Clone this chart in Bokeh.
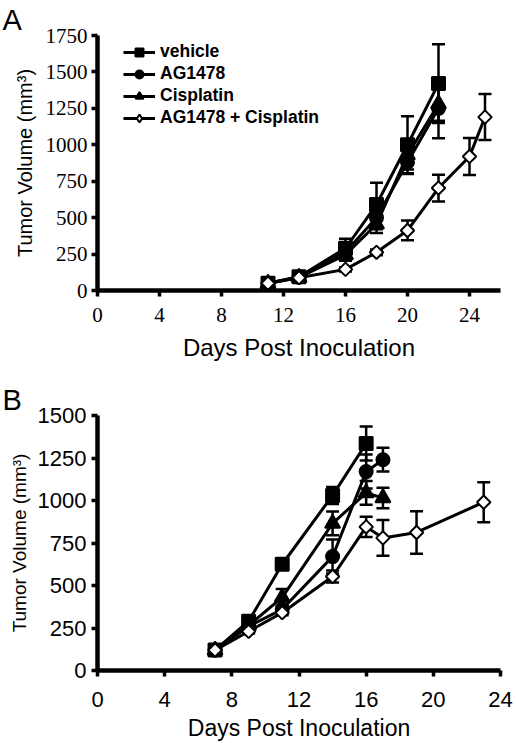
import numpy as np
from bokeh.plotting import figure
from bokeh.models import (ColumnDataSource, Whisker, TeeHead, FixedTicker,
                          Legend, LegendItem)
from bokeh.layouts import column
from bokeh.embed import file_html
from bokeh.resources import INLINE

# ---------------- data : panel A ----------------
a_series = ["vehicle", "AG1478", "Cisplatin", "AG1478 + Cisplatin"]
a_days_veh = [11, 13, 16, 18, 20, 22]
a_veh = [50, 95, 290, 590, 1000, 1420]
a_veh_sem = [15, 15, 65, 150, 195, 270]
a_days_ag = [11, 13, 16, 18, 20, 22]
a_ag = [50, 92, 265, 500, 880, 1250]
a_ag_sem = [12, 12, 40, 80, 80, 205]
a_days_cis = [11, 13, 16, 18, 20, 22]
a_cis = [48, 90, 245, 455, 930, 1280]
a_cis_sem = [12, 12, 40, 60, 100, 115]
a_days_comb = [11, 13, 16, 18, 20, 22, 24, 25]
a_comb = [50, 88, 145, 262, 412, 703, 920, 1190]
a_comb_sem = [10, 10, 15, 20, 68, 92, 127, 158]
a_xticks = [0, 4, 8, 12, 16, 20, 24]
a_yticks = [0, 250, 500, 750, 1000, 1250, 1500, 1750]

# ---------------- data : panel B ----------------
b_days_veh = [7, 9, 11, 14, 16]
b_veh = [120, 290, 625, 1030, 1335]
b_veh_sem = [10, 20, 25, 50, 100]
b_days_ag = [7, 9, 11, 14, 16, 17]
b_ag = [120, 260, 360, 670, 1170, 1240]
b_ag_sem = [10, 15, 20, 100, 100, 70]
b_days_cis = [7, 9, 11, 14, 16, 17]
b_cis = [120, 265, 430, 865, 1045, 1015]
b_cis_sem = [10, 15, 50, 70, 70, 60]
b_days_comb = [7, 9, 11, 14, 16, 17, 19, 23]
b_comb = [120, 230, 340, 553, 845, 780, 812, 990]
b_comb_sem = [10, 12, 15, 35, 60, 105, 125, 118]
b_xticks = [0, 4, 8, 12, 16, 20, 24]
b_yticks = [0, 250, 500, 750, 1000, 1250, 1500]

MARKERS = [
    dict(marker="square", size=13, fill_color="black", angle=0),
    dict(marker="circle", size=13, fill_color="black", angle=0),
    dict(marker="triangle", size=15, fill_color="black", angle=0),
    dict(marker="square", size=9.5, fill_color="white", angle=np.pi / 4),
]


def make_panel(width, height, xr, yr, borders, xticks, yticks, tick_font, letter):
    p = figure(width=width, height=height, x_range=xr, y_range=yr,
               output_backend="svg", toolbar_location=None,
               min_border_left=borders[0], min_border_right=borders[1],
               min_border_top=borders[2], min_border_bottom=borders[3])
    p.outline_line_color = None
    p.grid.visible = False
    p.background_fill_color = "white"
    p.border_fill_color = "white"
    p.title.text = letter
    p.title.align = "left"
    p.title.offset = -95
    p.title.standoff = 0
    p.title.text_font = "Liberation Sans"
    p.title.text_font_style = "normal"
    p.title.text_font_size = "29px"
    p.title.text_color = "black"
    p.xaxis.ticker = FixedTicker(ticks=xticks)
    p.yaxis.ticker = FixedTicker(ticks=yticks)
    for ax in (p.xaxis, p.yaxis):
        ax.axis_line_width = 4.5
        ax.axis_line_color = "black"
        ax.major_tick_line_width = 3.5
        ax.major_tick_line_color = "black"
        ax.major_tick_out = 6
        ax.major_tick_in = 0
        ax.minor_tick_line_color = None
        ax.major_label_text_font = tick_font
        ax.major_label_text_color = "black"
        ax.axis_label_text_font = "Liberation Sans"
        ax.axis_label_text_font_style = "normal"
        ax.axis_label_text_color = "black"
    p.xaxis.axis_label = "Days Post Inoculation"
    p.yaxis.axis_label = "Tumor Volume (mm³)"
    return p


def add_series(p, days, vals, sem, mk):
    vals = np.array(vals, dtype=float)
    sem = np.array(sem, dtype=float)
    src = ColumnDataSource(dict(x=days, y=vals, upper=vals + sem, lower=vals - sem))
    w = Whisker(base="x", upper="upper", lower="lower", source=src,
                line_color="black", line_width=2.5,
                upper_head=TeeHead(size=13, line_width=2.5, line_color="black"),
                lower_head=TeeHead(size=13, line_width=2.5, line_color="black"))
    p.add_layout(w)
    lr = p.line("x", "y", source=src, line_color="black", line_width=3)
    sr = p.scatter("x", "y", source=src, marker=mk["marker"], size=mk["size"],
                   fill_color=mk["fill_color"], line_color="black", line_width=2,
                   angle=mk["angle"])
    return lr, sr


# ---------------- panel A ----------------
pa = make_panel(516, 370, (0, 26), (0, 1750), (97, 8, 35, 80),
                a_xticks, a_yticks, "Liberation Serif", "A")
pa.xaxis.major_label_text_font_size = "21px"
pa.yaxis.major_label_text_font_size = "21px"
pa.xaxis.axis_label_text_font_size = "24px"
pa.yaxis.axis_label_text_font_size = "20px"
pa.xaxis.major_label_standoff = 11
pa.yaxis.major_label_standoff = 4
pa.xaxis.axis_label_standoff = 9
pa.yaxis.axis_label_standoff = 7

a_data = [(a_days_veh, a_veh, a_veh_sem), (a_days_ag, a_ag, a_ag_sem),
          (a_days_cis, a_cis, a_cis_sem), (a_days_comb, a_comb, a_comb_sem)]
items = []
for i, ((d, v, s), mk, name) in enumerate(zip(a_data, MARKERS, a_series)):
    lr, sr = add_series(pa, d, v, s, mk)
    if i == 3:
        # legend swatch: open diamond (legend swatches ignore marker angle)
        dummy = pa.scatter(x=[np.nan], y=[np.nan], marker="diamond", size=16,
                           fill_color="white", line_color="black", line_width=2)
        items.append(LegendItem(label=name, renderers=[lr, dummy]))
    else:
        items.append(LegendItem(label=name, renderers=[lr, sr]))

leg = Legend(items=items, location=(26, 162), margin=0, padding=0,
             glyph_width=32, glyph_height=20, label_height=20, spacing=1,
             label_standoff=5, label_text_font="Liberation Sans",
             label_text_font_style="bold", label_text_font_size="17.5px",
             label_text_color="black",
             border_line_color=None, background_fill_alpha=0)
pa.add_layout(leg)

# ---------------- panel B ----------------
pb = make_panel(516, 373, (0, 24), (0, 1500), (97, 16, 45, 71),
                b_xticks, b_yticks, "Liberation Sans", "B")
pb.xaxis.major_label_text_font_size = "22px"
pb.yaxis.major_label_text_font_size = "22px"
pb.xaxis.axis_label_text_font_size = "23px"
pb.yaxis.axis_label_text_font_size = "19px"
pb.xaxis.major_label_standoff = 15
pb.yaxis.major_label_standoff = 5
pb.xaxis.axis_label_standoff = 5
pb.yaxis.axis_label_standoff = 5

b_data = [(b_days_veh, b_veh, b_veh_sem), (b_days_ag, b_ag, b_ag_sem),
          (b_days_cis, b_cis, b_cis_sem), (b_days_comb, b_comb, b_comb_sem)]
for (d, v, s), mk in zip(b_data, MARKERS):
    add_series(pb, d, v, s, mk)

layout = column(pa, pb, spacing=0)
open("out.html", "w").write(file_html(layout, INLINE))
